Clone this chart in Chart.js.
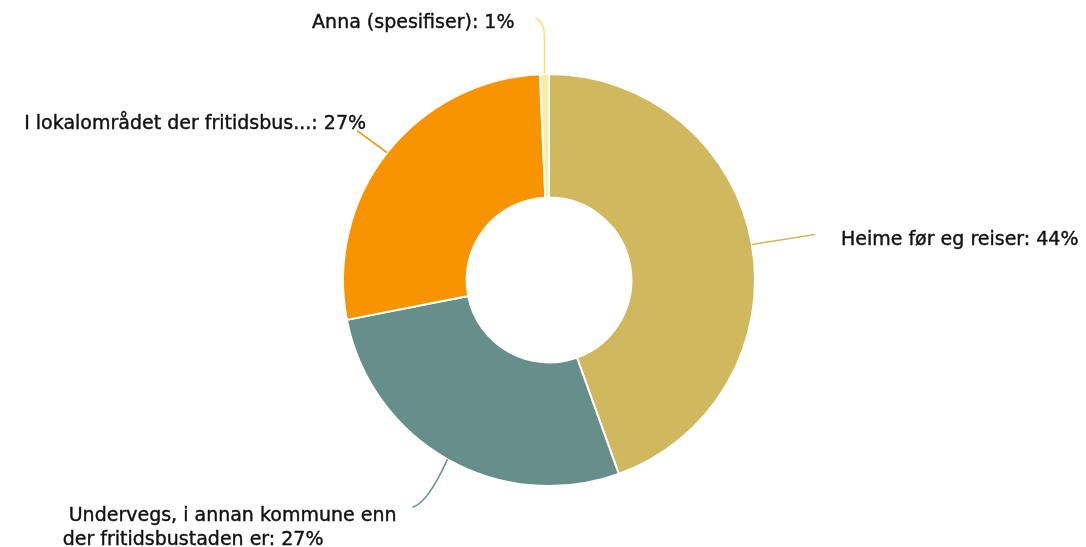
<!DOCTYPE html>
<html>
<head>
<meta charset="utf-8">
<script src="https://cdn.jsdelivr.net/npm/chart.js@4.4.1/dist/chart.umd.min.js"></script>
<style>
  html, body { margin: 0; padding: 0; background: #fff; }
  #wrap { width: 1086px; height: 547px; position: relative; }
</style>
</head>
<body>
<div id="wrap"><canvas id="myChart"></canvas></div>
<script>
// data (share in %)
const categories = [
  'Heime før eg reiser',
  ['Undervegs, i annan kommune enn', 'der fritidsbustaden er'],
  'I lokalområdet der fritidsbus...',
  'Anna (spesifiser)'
];
const shares = [44.5, 27.4, 27.4, 0.7];
const colors = ['#d0b85e', '#668f8b', '#f79400', '#f8ee9f'];
const lineColors = ['#d0b85e', '#668f8b', '#f79400', '#f3e37e'];

// where each label + connector goes, relative to the slice's outer midpoint
const labelLayout = [
  { end: [63, -10], ctrl: null, align: 'left', text: [26, 5] },
  { end: [-35, 48], ctrl: [-20, 44], align: 'left2', text: [-16, 9] },
  { end: [-30, -22], ctrl: null, align: 'right', text: [9, -7] },
  { end: [-9, -56], ctrl: [0, -52], up: 18, align: 'right', text: [-21, 5] }
];

const labelPlugin = {
  id: 'outLabels',
  afterDatasetsDraw(chart) {
    const ctx = chart.ctx;
    const meta = chart.getDatasetMeta(0);
    const data = chart.data.datasets[0].data;
    const total = data.reduce((a, b) => a + b, 0);
    ctx.save();
    ctx.font = '19px "DejaVu Sans", Verdana, sans-serif';
    ctx.fillStyle = '#111';
    ctx.textBaseline = 'middle';
    const put = (s, x, y) => {
      ctx.strokeStyle = '#111';
      ctx.lineWidth = 0.4;
      ctx.fillText(s, x, y);
      ctx.strokeText(s, x, y);
    };
    meta.data.forEach((arc, i) => {
      const p = arc.getProps(['x', 'y', 'startAngle', 'endAngle', 'outerRadius'], true);
      const mid = (p.startAngle + p.endAngle) / 2;
      const ax = p.x + Math.cos(mid) * p.outerRadius;
      const ay = p.y + Math.sin(mid) * p.outerRadius;
      const L = labelLayout[i];
      const ex = ax + L.end[0], ey = ay + L.end[1];

      ctx.strokeStyle = lineColors[i];
      ctx.lineWidth = 1.6;
      ctx.beginPath();
      ctx.moveTo(ax, ay);
      if (L.ctrl) {
        if (L.up) ctx.lineTo(ax, ey + L.up);
        ctx.quadraticCurveTo(ax + L.ctrl[0], ay + L.ctrl[1], ex, ey);
      } else {
        ctx.lineTo(ex, ey);
      }
      ctx.stroke();

      const pct = Math.round(data[i] / total * 100) + '%';
      const cat = categories[i];
      const tx = ex + L.text[0], ty = ey + L.text[1];
      if (Array.isArray(cat)) {
        const lines = [' ' + cat[0], cat[1] + ': ' + pct];
        const left = tx - ctx.measureText(lines[0]).width;
        ctx.textAlign = 'left';
        lines.forEach((ln, k) => put(ln, left, ty + k * 24));
      } else {
        ctx.textAlign = L.align === 'right' ? 'right' : 'left';
        put(cat + ': ' + pct, tx, ty);
      }
    });
    ctx.restore();
  }
};

new Chart(document.getElementById('myChart'), {
  type: 'doughnut',
  data: {
    labels: categories,
    datasets: [{
      data: shares,
      backgroundColor: colors,
      borderColor: '#ffffff',
      borderWidth: 2
    }]
  },
  options: {
    responsive: true,
    maintainAspectRatio: false,
    animation: false,
    cutout: '40%',
    layout: { padding: { top: 73, bottom: 60, left: 12, right: 0 } },
    plugins: {
      legend: { display: false },
      tooltip: { enabled: false }
    }
  },
  plugins: [labelPlugin]
});
</script>
</body>
</html>
